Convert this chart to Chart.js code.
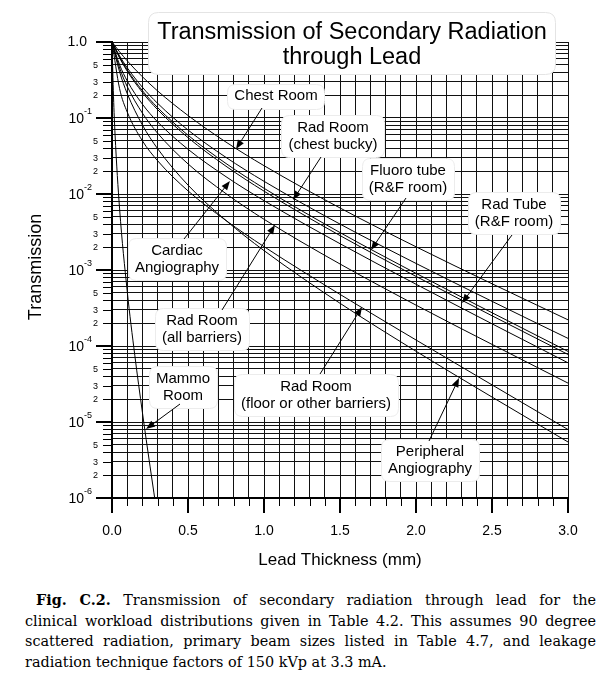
<!DOCTYPE html>
<html>
<head>
<meta charset="utf-8">
<script src="https://cdn.jsdelivr.net/npm/chart.js@4.4.0/dist/chart.umd.min.js"></script>
<style>
body { margin: 0; background: #fff; }
#wrap { position: relative; width: 605px; height: 680px; background: #fff; overflow: hidden; }
#c { position: absolute; left: 0; top: 0; }
#cap { position: absolute; left: 25px; top: 590px; width: 571px; font-family: 'DejaVu Serif', 'Liberation Serif', serif; font-size: 14.4px; line-height: 20.5px; color: #000; }
#cap div { text-align: justify; text-align-last: justify; white-space: nowrap; }
#cap div.last { text-align-last: left; }
</style>
</head>
<body>
<div id="wrap">
  <canvas id="c" width="605" height="580"></canvas>
  <div id="cap">
    <div style="text-indent:11px"><b>Fig. C.2.</b> Transmission of secondary radiation through lead for the</div>
    <div>clinical workload distributions given in Table 4.2. This assumes 90 degree</div>
    <div>scattered radiation, primary beam sizes listed in Table 4.7, and leakage</div>
    <div class="last">radiation technique factors of 150 kVp at 3.3 mA.</div>
  </div>
</div>
<script>
// lead thickness (mm) and transmission
const thickness = [0, 0.05, 0.1, 0.2, 0.3, 0.5, 0.75, 1.0, 1.5, 2.0, 2.5, 3.0];
const chestRoom = [1, 0.743, 0.566, 0.349, 0.227, 0.108, 0.0482, 0.0236, 0.00655, 0.00202, 6.59e-4, 2.21e-4];
const radChestBucky = [1, 0.656, 0.458, 0.254, 0.156, 0.0695, 0.0303, 0.0147, 0.00402, 0.00122, 3.87e-4, 1.26e-4];
const fluoroTube = [1, 0.631, 0.430, 0.229, 0.137, 0.0594, 0.0252, 0.0119, 0.00311, 9.04e-4, 2.74e-4, 8.49e-5];
const radTube = [1, 0.617, 0.414, 0.217, 0.129, 0.0552, 0.0232, 0.0109, 0.00284, 8.24e-4, 2.50e-4, 7.74e-5];
const cardiacAngio = [1, 0.501, 0.308, 0.152, 0.0889, 0.0388, 0.0169, 0.00818, 0.00222, 6.50e-4, 1.96e-4, 6.01e-5];
const radAllBarriers = [1, 0.455, 0.260, 0.116, 0.0631, 0.0249, 0.0101, 0.00465, 0.00120, 3.45e-4, 1.05e-4, 3.25e-5];
const radFloor = [1, 0.243, 0.120, 0.0501, 0.0274, 0.0110, 0.00448, 0.00203, 4.78e-4, 1.20e-4, 3.08e-5, 7.96e-6];
const peripheralAngio = [1, 0.405, 0.210, 0.0809, 0.0395, 0.0131, 0.00448, 0.00180, 3.65e-4, 8.53e-5, 2.13e-5, 5.46e-6];
const mammoThickness = [0, 0.01, 0.02, 0.05, 0.1, 0.15, 0.2, 0.25, 0.3];
const mammoRoom = [1, 0.190, 0.0612, 0.00637, 5.30e-4, 7.55e-5, 1.34e-5, 2.63e-6, 5.48e-7];

// axis ticks
const xMajorTicks = [0, 0.5, 1.0, 1.5, 2.0, 2.5, 3.0];
const xTickLabels = ['0.0', '0.5', '1.0', '1.5', '2.0', '2.5', '3.0'];
const decades = [-6, -5, -4, -3, -2, -1, 0];
const minorLabeled = [2, 3, 5];

// curve labels: text lines, label centre (px), arrow tail (px), arrow tip (mm, transmission)
const notes = [
    { lines: ['Chest Room'], cx: 276, cy: 96, tail: [262, 108], tip: [0.816, 0.0391] },
    { lines: ['Rad Room', '(chest bucky)'], cx: 333, cy: 136, tail: [321, 157], tip: [1.191, 0.00834] },
    { lines: ['Fluoro tube', '(R&F room)'], cx: 408, cy: 179, tail: [406, 198], tip: [1.704, 0.00183] },
    { lines: ['Rad Tube', '(R&F room)'], cx: 514, cy: 213, tail: [512, 235], tip: [2.303, 3.68e-4] },
    { lines: ['Cardiac', 'Angiography'], cx: 177, cy: 259, tail: [184, 239], tip: [0.776, 0.0148] },
    { lines: ['Rad Room', '(all barriers)'], cx: 202, cy: 329, tail: [222, 310], tip: [1.072, 0.00391] },
    { lines: ['Mammo', 'Room'], cx: 183, cy: 387, tail: [180, 404], tip: [0.224, 8.09e-6] },
    { lines: ['Rad Room', '(floor or other barriers)'], cx: 316, cy: 395, tail: [320, 374], tip: [1.645, 3.26e-4] },
    { lines: ['Peripheral', 'Angiography'], cx: 430, cy: 460, tail: [429, 441], tip: [2.283, 3.79e-5] }
];

const SANS = "'Liberation Sans', Arial, sans-serif";

let yGrid = [];
decades.forEach(e => {
    if (e === 0) { yGrid.push(1); return; }
    for (let m = 1; m <= 9; m++) yGrid.push(m * Math.pow(10, e));
});

function mkSet(xs, ys) {
    return {
        data: xs.map((t, i) => ({ x: t, y: ys[i] })),
        borderColor: '#000', borderWidth: 1, pointRadius: 0,
        cubicInterpolationMode: 'monotone', fill: false
    };
}

function rrect(ctx, x, y, w, h, r) {
    ctx.beginPath();
    ctx.moveTo(x + r, y);
    ctx.lineTo(x + w - r, y);
    ctx.quadraticCurveTo(x + w, y, x + w, y + r);
    ctx.lineTo(x + w, y + h - r);
    ctx.quadraticCurveTo(x + w, y + h, x + w - r, y + h);
    ctx.lineTo(x + r, y + h);
    ctx.quadraticCurveTo(x, y + h, x, y + h - r);
    ctx.lineTo(x, y + r);
    ctx.quadraticCurveTo(x, y, x + r, y);
    ctx.closePath();
}

const decorations = {
    id: 'decorations',
    afterDraw(chart) {
        const ctx = chart.ctx, ca = chart.chartArea;
        const xs = chart.scales.x, ys = chart.scales.y;
        ctx.save();
        ctx.strokeStyle = '#000';
        ctx.fillStyle = '#000';

        // y tick marks + labels
        ys.ticks.forEach(t => {
            const e = Math.floor(Math.log10(t.value) + 1e-9);
            const m = Math.round(t.value / Math.pow(10, e));
            const py = Math.round(ys.getPixelForValue(t.value));
            const major = m === 1;
            ctx.lineWidth = major ? 2 : 1;
            ctx.beginPath();
            ctx.moveTo(ca.left - (major ? 16 : 9), major ? py : py + 0.5);
            ctx.lineTo(ca.left, major ? py : py + 0.5);
            ctx.stroke();
            ctx.textBaseline = 'middle';
            if (major) {
                if (e === 0) {
                    ctx.font = '14px ' + SANS;
                    ctx.textAlign = 'right';
                    ctx.fillText('1.0', 87, py);
                } else {
                    ctx.font = '9px ' + SANS;
                    const ex = String(e);
                    const ew = ctx.measureText(ex).width;
                    ctx.textAlign = 'left';
                    ctx.fillText(ex, 92 - ew, py - 6);
                    ctx.font = '14px ' + SANS;
                    ctx.textAlign = 'right';
                    ctx.fillText('10', 92 - ew, py + 1);
                }
            } else if (minorLabeled.includes(m)) {
                ctx.font = '9px ' + SANS;
                ctx.textAlign = 'center';
                ctx.fillText(String(m), 95.5, py + 1);
            }
        });

        // x tick marks + labels
        xs.ticks.forEach(t => {
            const px = Math.round(xs.getPixelForValue(t.value));
            const major = Math.abs(t.value * 2 - Math.round(t.value * 2)) < 1e-6;
            ctx.lineWidth = major ? 2 : 1;
            ctx.beginPath();
            ctx.moveTo(major ? px : px + 0.5, ca.bottom);
            ctx.lineTo(major ? px : px + 0.5, ca.bottom + (major ? 15 : 8));
            ctx.stroke();
        });
        ctx.font = '14px ' + SANS;
        ctx.textAlign = 'center';
        ctx.textBaseline = 'middle';
        xMajorTicks.forEach((v, i) => {
            ctx.fillText(xTickLabels[i], xs.getPixelForValue(v), ca.bottom + 33);
        });

        // axis titles
        ctx.font = '17px ' + SANS;
        ctx.fillText('Lead Thickness (mm)', (ca.left + ca.right) / 2, ca.bottom + 62);
        ctx.save();
        ctx.translate(36, 267);
        ctx.rotate(-Math.PI / 2);
        ctx.font = '18px ' + SANS;
        ctx.fillText('Transmission', 0, 0);
        ctx.restore();

        // title box
        rrect(ctx, 148.5, 12.5, 407, 62, 10);
        ctx.fillStyle = '#fff';
        ctx.fill();
        ctx.strokeStyle = '#e4e4e4';
        ctx.lineWidth = 1;
        ctx.stroke();
        ctx.fillStyle = '#000';
        ctx.font = '23.5px ' + SANS;
        ctx.fillText('Transmission of Secondary Radiation', 352, 33);
        ctx.fillText('through Lead', 352, 58);

        // curve labels with arrows
        ctx.font = '15px ' + SANS;
        const lh = 17;
        notes.forEach(n => {
            const w = Math.max(...n.lines.map(s => ctx.measureText(s).width)) + 14;
            const h = n.lines.length * lh + 8;
            rrect(ctx, Math.round(n.cx - w / 2) + 0.5, Math.round(n.cy - h / 2) + 0.5, Math.round(w), h, 8);
            ctx.fillStyle = '#fff';
            ctx.fill();
            ctx.strokeStyle = '#ececec';
            ctx.lineWidth = 1;
            ctx.stroke();
            ctx.fillStyle = '#000';
            n.lines.forEach((s, i) => {
                ctx.fillText(s, n.cx, n.cy + (i - (n.lines.length - 1) / 2) * lh);
            });

            const tx = xs.getPixelForValue(n.tip[0]), ty = ys.getPixelForValue(n.tip[1]);
            const [sx, sy] = n.tail;
            const ang = Math.atan2(ty - sy, tx - sx);
            ctx.strokeStyle = '#000';
            ctx.lineWidth = 1;
            ctx.beginPath();
            ctx.moveTo(sx, sy);
            ctx.lineTo(tx - 6 * Math.cos(ang), ty - 6 * Math.sin(ang));
            ctx.stroke();
            ctx.beginPath();
            ctx.moveTo(tx, ty);
            ctx.lineTo(tx - 9 * Math.cos(ang) + 3.5 * Math.sin(ang), ty - 9 * Math.sin(ang) - 3.5 * Math.cos(ang));
            ctx.lineTo(tx - 9 * Math.cos(ang) - 3.5 * Math.sin(ang), ty - 9 * Math.sin(ang) + 3.5 * Math.cos(ang));
            ctx.closePath();
            ctx.fill();
        });
        ctx.restore();
    }
};

new Chart(document.getElementById('c').getContext('2d'), {
    type: 'line',
    data: {
        datasets: [
            mkSet(thickness, chestRoom),
            mkSet(thickness, radChestBucky),
            mkSet(thickness, fluoroTube),
            mkSet(thickness, radTube),
            mkSet(thickness, cardiacAngio),
            mkSet(thickness, radAllBarriers),
            mkSet(thickness, radFloor),
            mkSet(thickness, peripheralAngio),
            mkSet(mammoThickness, mammoRoom)
        ]
    },
    options: {
        responsive: false,
        animation: false,
        layout: { padding: { left: 0, right: 37, top: 42, bottom: 0 } },
        plugins: { legend: { display: false }, tooltip: { enabled: false } },
        scales: {
            x: {
                type: 'linear', min: 0, max: 3,
                ticks: { stepSize: 0.1, display: false },
                grid: { color: '#111', lineWidth: 1, drawTicks: false },
                border: { color: '#000', width: 2 },
                afterFit(s) { s.height = 82; }
            },
            y: {
                type: 'logarithmic', min: 1e-6, max: 1,
                afterBuildTicks(s) { s.ticks = yGrid.map(v => ({ value: v })); },
                ticks: { display: false },
                grid: { color: '#111', lineWidth: 1, drawTicks: false },
                border: { color: '#000', width: 2 },
                afterFit(s) { s.width = 112; }
            }
        }
    },
    plugins: [decorations]
});
</script>
</body>
</html>
